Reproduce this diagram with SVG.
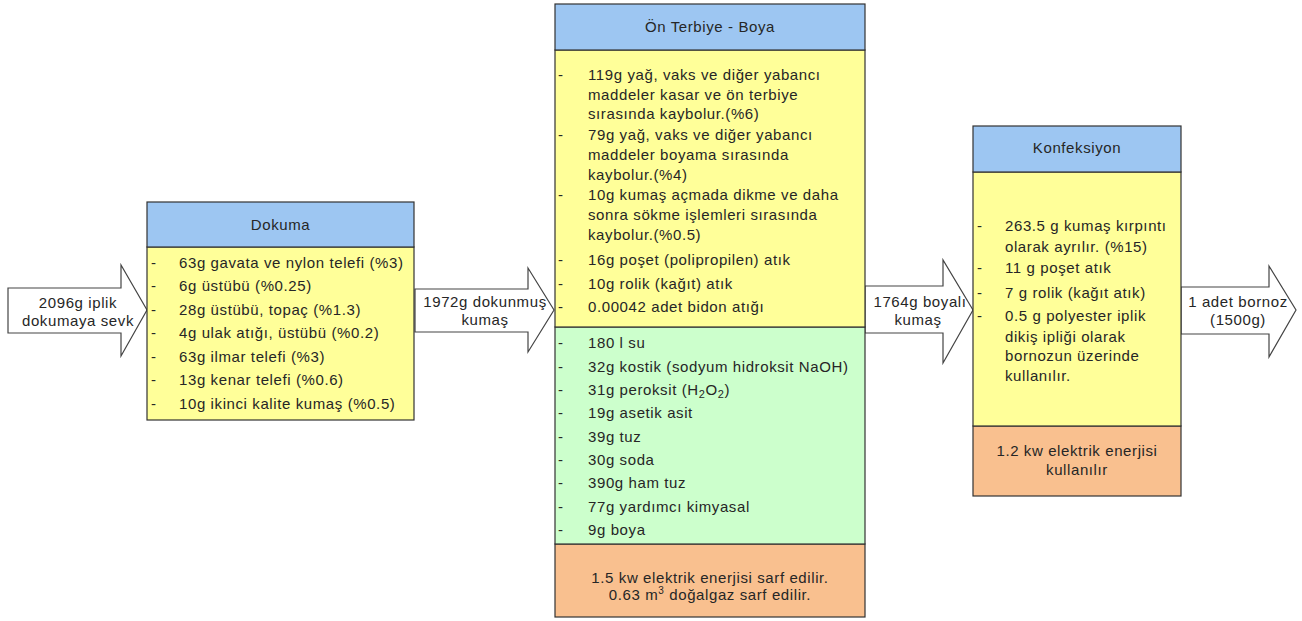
<svg xmlns="http://www.w3.org/2000/svg" width="1302" height="621" viewBox="0 0 1302 621">
<style>
text{font-family:"Liberation Sans",Arial,sans-serif;font-size:15px;letter-spacing:0.6px;fill:#262626}
.c{text-anchor:middle}
.hd{fill:#9DC6F2;stroke:#333;stroke-width:1.2}
.y{fill:#FFFF99;stroke:#333;stroke-width:1.2}
.g{fill:#CCFFCC;stroke:#333;stroke-width:1.2}
.o{fill:#F9C08F;stroke:#333;stroke-width:1.2}
.ar{fill:#fff;stroke:#444;stroke-width:1.2}
</style>
<rect width="1302" height="621" fill="#fff"/>
<g id="connectors">
<path class="ar" d="M8,288 H121 V265 L147,310 L121,356 V333 H8 Z"/>
<path class="ar" d="M415,289 H528 V268 L554,310 L528,352 V332 H415 Z"/>
<path class="ar" d="M865,286 H943 V260 L973,310 L943,363 V333 H865 Z"/>
<path class="ar" d="M1181,287 H1269 V266 L1296,310 L1269,357 V334 H1181 Z"/>
<text class="c" x="78" y="308">2096g iplik</text>
<text class="c" x="78" y="326">dokumaya sevk</text>
<text class="c" x="485" y="307">1972g dokunmuş</text>
<text class="c" x="485" y="325">kumaş</text>
<text class="c" x="920" y="307">1764g boyalı</text>
<text class="c" x="918" y="325">kumaş</text>
<text class="c" x="1238" y="307">1 adet bornoz</text>
<text class="c" x="1238" y="325">(1500g)</text>
</g>
<g id="dokuma">
<rect class="y" x="147" y="247" width="267" height="173"/>
<rect class="hd" x="147" y="202" width="267" height="45"/>
<text class="c" x="280.5" y="230">Dokuma</text>
<g>
<text x="151" y="268">-</text><text x="179" y="268">63g gavata ve nylon telefi (%3)</text>
<text x="151" y="291">-</text><text x="179" y="291">6g üstübü (%0.25)</text>
<text x="151" y="315">-</text><text x="179" y="315">28g üstübü, topaç (%1.3)</text>
<text x="151" y="338">-</text><text x="179" y="338">4g ulak atığı, üstübü (%0.2)</text>
<text x="151" y="362">-</text><text x="179" y="362">63g ilmar telefi (%3)</text>
<text x="151" y="385">-</text><text x="179" y="385">13g kenar telefi (%0.6)</text>
<text x="151" y="409">-</text><text x="179" y="409">10g ikinci kalite kumaş (%0.5)</text>
</g>
</g>
<g id="on-terbiye-boya">
<rect class="o" x="555" y="544" width="310" height="73"/>
<rect class="g" x="555" y="327" width="310" height="217"/>
<rect class="y" x="555" y="50" width="310" height="277"/>
<rect class="hd" x="555" y="4" width="310" height="46"/>
<text class="c" x="710" y="32">Ön Terbiye - Boya</text>
<text x="558" y="80">-</text><text x="588" y="80">119g yağ, vaks ve diğer yabancı</text>
<text x="588" y="99.5">maddeler kasar ve ön terbiye</text>
<text x="588" y="119">sırasında kaybolur.(%6)</text>
<text x="558" y="140">-</text><text x="588" y="140">79g yağ, vaks ve diğer yabancı</text>
<text x="588" y="160">maddeler boyama sırasında</text>
<text x="588" y="179.5">kaybolur.(%4)</text>
<text x="558" y="200">-</text><text x="588" y="200">10g kumaş açmada dikme ve daha</text>
<text x="588" y="220">sonra sökme işlemleri sırasında</text>
<text x="588" y="240">kaybolur.(%0.5)</text>
<text x="558" y="265">-</text><text x="588" y="265">16g poşet (polipropilen) atık</text>
<text x="558" y="289">-</text><text x="588" y="289">10g rolik (kağıt) atık</text>
<text x="558" y="312">-</text><text x="588" y="312">0.00042 adet bidon atığı</text>
<text x="558" y="348">-</text><text x="588" y="348">180 l su</text>
<text x="558" y="372">-</text><text x="588" y="372">32g kostik (sodyum hidroksit NaOH)</text>
<text x="558" y="395">-</text><text x="588" y="395">31g peroksit (H<tspan font-size="11" dy="3">2</tspan><tspan dy="-3">O</tspan><tspan font-size="11" dy="3">2</tspan><tspan dy="-3">)</tspan></text>
<text x="558" y="418">-</text><text x="588" y="418">19g asetik asit</text>
<text x="558" y="442">-</text><text x="588" y="442">39g tuz</text>
<text x="558" y="465">-</text><text x="588" y="465">30g soda</text>
<text x="558" y="488">-</text><text x="588" y="488">390g ham tuz</text>
<text x="558" y="512">-</text><text x="588" y="512">77g yardımcı kimyasal</text>
<text x="558" y="535">-</text><text x="588" y="535">9g boya</text>
<text class="c" x="710" y="583">1.5 kw elektrik enerjisi sarf edilir.</text>
<text class="c" x="710" y="600">0.63 m<tspan font-size="10" dy="-6">3</tspan><tspan dy="6"> doğalgaz sarf edilir.</tspan></text>
</g>
<g id="konfeksiyon">
<rect class="o" x="973" y="426" width="208" height="70"/>
<rect class="y" x="973" y="172" width="208" height="254"/>
<rect class="hd" x="973" y="126" width="208" height="46"/>
<text class="c" x="1077" y="153">Konfeksiyon</text>
<text x="977" y="231">-</text><text x="1005" y="231">263.5 g kumaş kırpıntı</text>
<text x="1005" y="252">olarak ayrılır. (%15)</text>
<text x="977" y="273">-</text><text x="1005" y="273">11 g poşet atık</text>
<text x="977" y="298">-</text><text x="1005" y="298">7 g rolik (kağıt atık)</text>
<text x="977" y="321">-</text><text x="1005" y="321">0.5 g polyester iplik</text>
<text x="1005" y="342">dikiş ipliği olarak</text>
<text x="1005" y="361">bornozun üzerinde</text>
<text x="1005" y="381">kullanılır.</text>
<text class="c" x="1077" y="456">1.2 kw elektrik enerjisi</text>
<text class="c" x="1077" y="475">kullanılır</text>
</g>
</svg>
